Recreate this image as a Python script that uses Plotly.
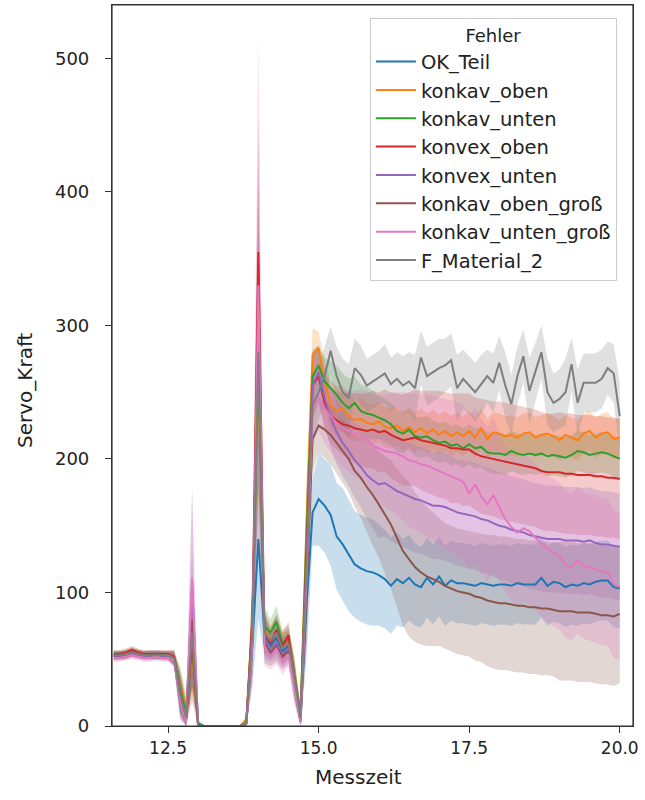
import plotly.graph_objects as go

# time axis (Messzeit), 0.1 steps from 11.6 to 20.0
t = [round(11.6 + 0.1 * i, 1) for i in range(85)]

series_names = ["OK_Teil", "konkav_oben", "konkav_unten", "konvex_oben",
                "konvex_unten", "konkav_oben_groß", "konkav_unten_groß", "F_Material_2"]
colors = ["#1f77b4", "#ff7f0e", "#2ca02c", "#d62728",
          "#9467bd", "#8c564b", "#e377c2", "#7f7f7f"]

# ---- mean values (Servo_Kraft), 11.6 .. 14.9 then 15.0 .. 20.0 ----
ok_teil = [53, 53, 54, 55, 54, 53, 53, 54, 53, 53, 50, 25, 8, 69, 2, 0, 0, 0, 0, 0, 0, 0,
           2, 60, 140, 68, 60, 66, 56, 60, 35, 5, 90, 160,
           170, 165, 158, 142, 136, 128, 121, 118, 116, 115,
           113, 110, 105, 110, 107, 111, 106, 104, 111, 106,
           112, 105, 109, 107, 107, 106, 105, 107, 106, 105,
           106, 106, 105, 107, 106, 106, 106, 111, 105, 108,
           107, 104, 106, 105, 107, 106, 108, 109, 109, 104,
           103]
konkav_oben = [52, 53, 53, 55, 54, 53, 53, 53, 53, 52, 50, 30, 15, 55, 0, 0, 0, 0, 0, 0, 0, 0,
               5, 80, 260, 72, 65, 70, 60, 62, 40, 8, 150, 278,
               283, 258, 240, 236, 238, 232, 229, 230, 227, 226,
               228, 224, 223, 225, 221, 224, 220, 223, 219, 222,
               218, 221, 217, 220, 217, 221, 216, 223, 215, 220,
               219, 217, 218, 216, 219, 220, 216, 218, 219, 217,
               214, 218, 216, 214, 219, 221, 216, 219, 220, 215,
               216]
konkav_unten = [53, 53, 54, 56, 54, 53, 54, 53, 53, 53, 52, 28, 10, 60, 1, 0, 0, 0, 0, 0, 0, 0,
                3, 75, 270, 75, 70, 78, 62, 65, 38, 10, 140, 262,
                270, 258, 253, 248, 242, 238, 242, 236, 234, 233,
                231, 229, 226, 221, 219, 222, 217, 216, 217, 214,
                212, 213, 210, 211, 208, 211, 208, 209, 205, 204,
                204, 203, 206, 204, 203, 204, 203, 204, 202, 203,
                202, 201, 203, 206, 205, 203, 204, 205, 204, 202,
                200]
konvex_oben = [54, 54, 55, 57, 55, 54, 54, 54, 54, 54, 52, 22, 5, 64, 0, 0, 0, 0, 0, 0, 0, 0,
               2, 80, 355, 70, 62, 72, 60, 68, 35, 5, 130, 255,
               262, 242, 232, 229, 226, 225, 223, 222, 221, 222,
               220, 221, 218, 216, 214, 215, 216, 214, 213, 212,
               211, 210, 208, 208, 207, 207, 204, 202, 201, 200,
               199, 198, 197, 196, 195, 194, 193, 191, 190, 190,
               190, 189, 189, 188, 188, 188, 187, 187, 186, 186,
               185]
konvex_unten = [52, 52, 53, 54, 53, 52, 52, 53, 52, 52, 50, 20, 5, 105, 0, 0, 0, 0, 0, 0, 0, 0,
                2, 70, 300, 65, 58, 62, 54, 58, 32, 4, 120, 255,
                265, 246, 231, 220, 212, 206, 199, 194, 188, 184,
                181, 182, 179, 176, 174, 172, 170, 169, 167, 165,
                165, 164, 162, 160, 159, 158, 157, 155, 154, 152,
                150, 149, 147, 146, 145, 143, 142, 141, 140, 140,
                140, 139, 139, 139, 138, 139, 137, 136, 136, 135,
                134]
konkav_oben_gross = [53, 53, 53, 55, 54, 53, 53, 53, 53, 53, 51, 25, 5, 80, 0, 0, 0, 0, 0, 0, 0, 0,
                     2, 65, 310, 62, 55, 60, 52, 56, 30, 3, 100, 215,
                     225, 222, 218, 212, 206, 200, 191, 186, 179, 173,
                     166, 158, 151, 141, 131, 125, 119, 115, 112, 110,
                     108, 105, 103, 101, 100, 99, 97, 96, 94, 93,
                     92, 92, 91, 90, 90, 89, 89, 88, 88, 87,
                     86, 86, 86, 85, 85, 85, 84, 83, 83, 82,
                     84]
konkav_unten_gross = [51, 51, 52, 53, 52, 51, 51, 52, 51, 51, 49, 20, 3, 110, 0, 0, 0, 0, 0, 0, 0, 0,
                      2, 60, 330, 60, 52, 58, 48, 54, 28, 3, 110, 235,
                      246, 238, 232, 227, 223, 221, 219, 218, 215, 210,
                      208, 206, 205, 204, 202, 199, 198, 196, 195, 193,
                      191, 189, 187, 185, 183, 174, 181, 172, 166, 173,
                      164, 155, 149, 145, 148, 146, 141, 137, 133, 130,
                      127, 121, 119, 124, 120, 119, 117, 116, 115, 106,
                      104]
f_material_2 = [53, 53, 54, 55, 54, 53, 53, 53, 53, 53, 51, 24, 6, 70, 0, 0, 0, 0, 0, 0, 0, 0,
                2, 70, 280, 70, 64, 70, 58, 62, 36, 6, 120, 240,
                250, 262, 281, 262, 250, 246, 268, 263, 255, 258,
                261, 264, 256, 260, 255, 258, 253, 276, 262, 265,
                268, 270, 274, 253, 260, 255, 250, 256, 262, 257,
                272, 255, 241, 262, 277, 251, 265, 280, 250, 242,
                245, 250, 271, 242, 257, 257, 257, 260, 268, 264,
                232]

# ---- confidence half-widths ----
hw_ok_teil = [3, 3, 3, 3, 3, 3, 3, 3, 3, 3, 5, 15, 10, 40, 3, 0, 0, 0, 0, 0, 0, 0,
              3, 30, 60, 15, 10, 12, 10, 10, 12, 5, 40, 25,
              35, 35, 38, 40, 42, 42, 40, 40, 40, 40,
              38, 37, 36, 35, 33, 32, 31, 30, 30, 30,
              30, 30, 30, 30, 30, 30, 30, 30, 30, 30,
              30, 30, 30, 30, 30, 30, 30, 30, 30, 30,
              30, 30, 30, 30, 30, 30, 30, 30, 30, 30,
              30]
hw_konkav_oben = [3, 3, 3, 3, 3, 3, 3, 3, 3, 3, 5, 15, 10, 30, 3, 0, 0, 0, 0, 0, 0, 0,
                  3, 30, 90, 15, 10, 12, 10, 10, 12, 5, 40, 20,
                  12, 16, 18, 18, 17, 17, 16, 16, 15, 15,
                  15, 15, 15, 15, 15, 15, 15, 15, 15, 15,
                  15, 15, 15, 15, 15, 15, 15, 15, 15, 15,
                  15, 15, 15, 15, 15, 15, 15, 15, 15, 15,
                  15, 15, 15, 15, 15, 15, 15, 15, 15, 15,
                  15]
hw_konkav_unten = [3, 3, 3, 3, 3, 3, 3, 3, 3, 3, 5, 15, 10, 30, 3, 0, 0, 0, 0, 0, 0, 0,
                   3, 30, 90, 15, 10, 12, 10, 10, 12, 5, 40, 20,
                   15, 18, 20, 22, 22, 22, 20, 20, 20, 18,
                   16, 16, 16, 16, 15, 15, 15, 15, 15, 15,
                   15, 15, 15, 15, 15, 15, 15, 15, 15, 15,
                   15, 15, 15, 15, 15, 15, 15, 15, 15, 15,
                   15, 15, 15, 15, 15, 15, 15, 15, 15, 15,
                   15]
hw_konvex_oben = [3, 3, 3, 3, 3, 3, 3, 3, 3, 3, 5, 15, 10, 45, 3, 0, 0, 0, 0, 0, 0, 0,
                  3, 30, 100, 15, 10, 12, 10, 10, 12, 5, 40, 25,
                  20, 20, 21, 22, 23, 25, 26, 27, 28, 29,
                  30, 31, 32, 33, 34, 35, 36, 37, 38, 39,
                  40, 40, 41, 41, 42, 42, 42, 43, 43, 43,
                  44, 44, 44, 44, 44, 44, 44, 44, 44, 44,
                  45, 45, 45, 45, 45, 45, 45, 45, 45, 45,
                  45]
hw_konvex_unten = [3, 3, 3, 3, 3, 3, 3, 3, 3, 3, 5, 15, 10, 70, 3, 0, 0, 0, 0, 0, 0, 0,
                   3, 30, 120, 15, 10, 12, 10, 10, 12, 5, 40, 25,
                   20, 22, 23, 24, 25, 26, 28, 30, 33, 36,
                   40, 40, 40, 40, 40, 40, 40, 40, 40, 40,
                   40, 40, 40, 40, 40, 40, 40, 40, 40, 40,
                   40, 40, 40, 40, 40, 40, 40, 40, 40, 40,
                   40, 40, 40, 40, 40, 40, 40, 40, 40, 40,
                   40]
hw_konkav_oben_gross = [3, 3, 3, 3, 3, 3, 3, 3, 3, 3, 5, 15, 10, 50, 3, 0, 0, 0, 0, 0, 0, 0,
                        3, 30, 100, 15, 10, 12, 10, 10, 12, 5, 40, 25,
                        20, 21, 22, 23, 24, 25, 27, 30, 34, 38,
                        40, 44, 48, 52, 56, 58, 56, 54, 52, 50,
                        48, 47, 47, 47, 47, 47, 48, 48, 49, 50,
                        50, 50, 50, 50, 50, 50, 50, 50, 50, 50,
                        52, 52, 52, 52, 52, 52, 52, 52, 52, 52,
                        52]
hw_konkav_unten_gross = [3, 3, 3, 3, 3, 3, 3, 3, 3, 3, 5, 15, 10, 70, 3, 0, 0, 0, 0, 0, 0, 0,
                         3, 30, 185, 15, 10, 12, 10, 10, 12, 5, 40, 25,
                         25, 26, 27, 28, 29, 30, 32, 34, 36, 38,
                         40, 42, 44, 46, 48, 50, 51, 52, 53, 54,
                         55, 56, 57, 58, 58, 58, 58, 58, 58, 58,
                         55, 55, 55, 55, 55, 55, 55, 55, 55, 55,
                         55, 55, 55, 55, 55, 55, 55, 55, 55, 55,
                         55]
hw_f_material_2 = [3, 3, 3, 3, 3, 3, 3, 3, 3, 3, 5, 15, 10, 40, 3, 0, 0, 0, 0, 0, 0, 0,
                   3, 30, 100, 15, 10, 12, 10, 10, 12, 5, 40, 25,
                   20, 22, 18, 22, 25, 25, 22, 22, 20, 20,
                   20, 22, 20, 20, 22, 22, 25, 20, 22, 22,
                   22, 20, 20, 25, 22, 22, 22, 22, 20, 22,
                   20, 25, 22, 22, 20, 25, 22, 20, 25, 22,
                   22, 25, 20, 25, 22, 22, 22, 22, 20, 22,
                   25]

means = [ok_teil, konkav_oben, konkav_unten, konvex_oben,
         konvex_unten, konkav_oben_gross, konkav_unten_gross, f_material_2]
halfwidths = [hw_ok_teil, hw_konkav_oben, hw_konkav_unten, hw_konvex_oben,
              hw_konvex_unten, hw_konkav_oben_gross, hw_konkav_unten_gross, hw_f_material_2]

x_ticks = [12.5, 15.0, 17.5, 20.0]
x_tick_labels = ["12.5", "15.0", "17.5", "20.0"]
y_ticks = [0, 100, 200, 300, 400, 500]


def rgba(hex_color, a):
    h = hex_color.lstrip("#")
    return "rgba(%d,%d,%d,%.2f)" % (int(h[0:2], 16), int(h[2:4], 16), int(h[4:6], 16), a)


fig = go.Figure()

# confidence bands first (below all lines, as in matplotlib)
for name, col, m, hw in zip(series_names, colors, means, halfwidths):
    hi = [v + w for v, w in zip(m, hw)]
    lo = [max(0, v - w) for v, w in zip(m, hw)]
    fig.add_trace(go.Scatter(
        x=t + t[::-1], y=hi + lo[::-1], fill="toself",
        fillcolor=rgba(col, 0.24), line=dict(width=0),
        mode="lines", showlegend=False, hoverinfo="skip"))

for name, col, m in zip(series_names, colors, means):
    fig.add_trace(go.Scatter(x=t, y=m, mode="lines", name=name,
                             line=dict(color=col, width=2)))

font_family = "DejaVu Sans"
axis_col = "#333333"
W, H = 645, 800
plot_left, plot_right, plot_top, plot_bottom = 112, 633, 5, 726  # page pixels
fig.update_layout(
    width=W, height=H,
    margin=dict(l=plot_left, r=W - plot_right, t=plot_top, b=H - plot_bottom),
    paper_bgcolor="white", plot_bgcolor="white",
    font=dict(family=font_family, size=18, color="#222222"),
    legend=dict(
        title=dict(text="Fehler", side="top center", font=dict(size=18)),
        x=0.495, y=0.982, xanchor="left", yanchor="top",
        bgcolor="rgba(255,255,255,0.85)", bordercolor="#cccccc", borderwidth=1,
        font=dict(size=19.5), itemwidth=40,
    ),
    xaxis=dict(
        range=[11.57, 20.22], tickvals=x_ticks, ticktext=x_tick_labels,
        showline=True, mirror=True, linecolor=axis_col, linewidth=1.2,
        ticks="outside", ticklen=6, tickcolor=axis_col,
        tickfont=dict(size=17),
        showgrid=False, zeroline=False,
    ),
    yaxis=dict(
        range=[0, 540], tickvals=y_ticks,
        showline=True, mirror=True, linecolor=axis_col, linewidth=1.2,
        ticks="outside", ticklen=6, tickcolor=axis_col,
        ticklabelstandoff=12,
        showgrid=False, zeroline=False,
    ),
    shapes=[
        dict(type="rect", xref="paper", yref="paper", x0=0, x1=1, y0=0, y1=1,
             line=dict(color=axis_col, width=1.2), fillcolor="rgba(0,0,0,0)",
             layer="above"),
    ],
    annotations=[
        dict(text="Messzeit", xref="paper", yref="paper",
             x=(358 - plot_left) / (plot_right - plot_left),
             y=-(777 - plot_bottom) / (plot_bottom - plot_top),
             xanchor="center", yanchor="middle", showarrow=False,
             font=dict(size=20, family=font_family, color="#222222")),
        dict(text="Servo_Kraft", xref="paper", yref="paper",
             x=(25 - plot_left) / (plot_right - plot_left),
             y=1 - (390 - plot_top) / (plot_bottom - plot_top), textangle=-90,
             xanchor="center", yanchor="middle", showarrow=False,
             font=dict(size=20, family=font_family, color="#222222")),
    ],
)

# remove the default page margin so the figure fills the 645x800 window exactly
fig.write_html("out.html",
               config={"displayModeBar": False},
               post_script="document.body.style.margin='0';document.body.style.overflow='hidden';")
